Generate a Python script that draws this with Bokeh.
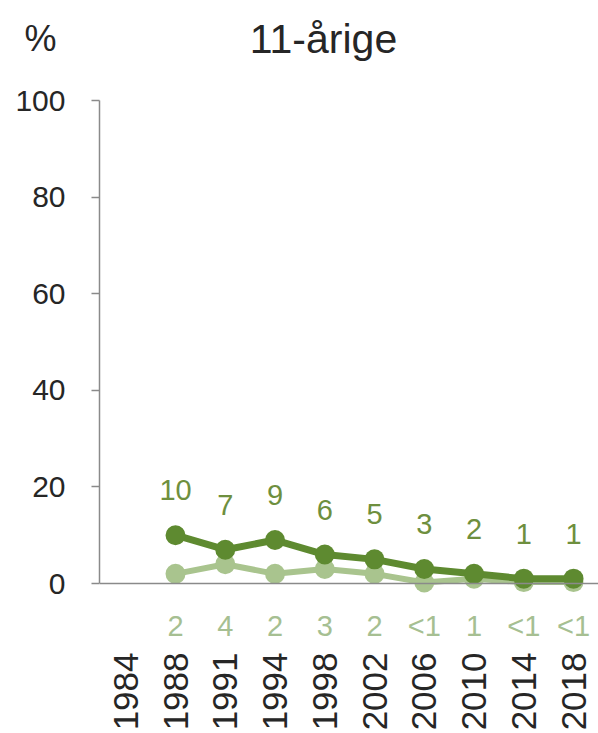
import math
from bokeh.plotting import figure
from bokeh.layouts import column
from bokeh.models import Range1d, FixedTicker, Span
from bokeh.core.properties import value
from bokeh.embed import file_html
from bokeh.resources import INLINE

# ---- data ----
years = ["1984", "1988", "1991", "1994", "1998", "2002", "2006", "2010", "2014", "2018"]
series_years = ["1988", "1991", "1994", "1998", "2002", "2006", "2010", "2014", "2018"]
dark_vals = [10, 7, 9, 6, 5, 3, 2, 1, 1]
dark_labels = ["10", "7", "9", "6", "5", "3", "2", "1", "1"]
light_vals = [2, 4, 2, 3, 2, 0.2, 1, 0.3, 0.3]
light_labels = ["2", "4", "2", "3", "2", "<1", "1", "<1", "<1"]
y_ticks = [0, 20, 40, 60, 80, 100]
title_text = "11-årige"
unit_text = "%"

# ---- style ----
FONT = "Liberation Sans"
DARK = "#5e8a30"
LIGHT = "#a9c48e"
DARK_TXT = "#6e8f3e"
LIGHT_TXT = "#a6bf92"
AXIS = "#8a8a8a"
TXT = "#262626"

x_index = {y: i for i, y in enumerate(years)}
sx = [x_index[y] for y in series_years]
zero_line = [0 for _ in light_vals]

# ---- header (title and unit) ----
# frame of the header is aligned with the chart frame (pixels 99..598)
head = figure(frame_width=499, frame_height=70,
              min_border_left=99, min_border_right=0, min_border_top=0, min_border_bottom=0,
              x_range=Range1d(99, 598), y_range=Range1d(70, 0),
              x_axis_location=None,
              output_backend="svg", toolbar_location=None)
head.outline_line_color = None
head.grid.visible = False
# unit "%" as the single label of the header's left axis
head.yaxis.ticker = FixedTicker(ticks=[38])
head.yaxis.major_label_overrides = {38: unit_text}
head.yaxis.axis_line_color = None
head.yaxis.major_tick_line_color = None
head.yaxis.minor_tick_line_color = None
head.yaxis.major_label_standoff = 37
head.yaxis.major_label_text_font = FONT
head.yaxis.major_label_text_font_size = "36px"
head.yaxis.major_label_text_color = TXT
head.text(x=[323], y=[38], text=[title_text], text_align="center", text_baseline="alphabetic",
          text_font=value(FONT), text_font_size="41px", text_color=TXT)

# ---- main chart ----
p = figure(frame_width=499, frame_height=543,
           min_border_left=99, min_border_right=0, min_border_top=30, min_border_bottom=90,
           x_range=Range1d(-0.528, 9.502), y_range=Range1d(-12.42, 100),
           output_backend="svg", toolbar_location=None)
p.outline_line_color = None
p.background_fill_color = "white"
p.border_fill_color = "white"
p.xgrid.visible = False
p.ygrid.visible = False

# y axis
p.yaxis.ticker = FixedTicker(ticks=y_ticks)
p.yaxis.bounds = (0, 100)
p.yaxis.axis_line_color = AXIS
p.yaxis.axis_line_width = 1.5
p.yaxis.major_tick_line_color = AXIS
p.yaxis.major_tick_line_width = 1.5
p.yaxis.major_tick_out = 8
p.yaxis.major_tick_in = 0
p.yaxis.minor_tick_line_color = None
p.yaxis.major_label_standoff = 26
p.yaxis.major_label_text_font = FONT
p.yaxis.major_label_text_font_size = "30px"
p.yaxis.major_label_text_color = TXT

# x axis (years)
p.xaxis.ticker = FixedTicker(ticks=list(range(len(years))))
p.xaxis.major_label_overrides = {i: y for i, y in enumerate(years)}
p.xaxis.major_label_orientation = math.pi / 2
p.xaxis.axis_line_color = None
p.xaxis.major_tick_line_color = None
p.xaxis.minor_tick_line_color = None
p.xaxis.major_label_standoff = 3
p.xaxis.major_label_text_font = FONT
p.xaxis.major_label_text_font_size = "35px"
p.xaxis.major_label_text_color = TXT

# baseline at 0
p.add_layout(Span(location=0, dimension="width", line_color=AXIS, line_width=1.5))

# series
p.line(sx, light_vals, line_color=LIGHT, line_width=6)
p.scatter(sx, light_vals, size=20, fill_color=LIGHT, line_color=None)
p.line(sx, dark_vals, line_color=DARK, line_width=7)
p.scatter(sx, dark_vals, size=20, fill_color=DARK, line_color=None)

# value labels
p.text(sx, dark_vals, text=dark_labels, y_offset=-45,
       text_align="center", text_baseline="middle",
       text_font=value(FONT), text_font_size="29px", text_color=DARK_TXT)
p.text(sx, zero_line, text=light_labels, y_offset=42,
       text_align="center", text_baseline="middle",
       text_font=value(FONT), text_font_size="29px", text_color=LIGHT_TXT)

open("out.html", "w").write(file_html(column(head, p), INLINE))
